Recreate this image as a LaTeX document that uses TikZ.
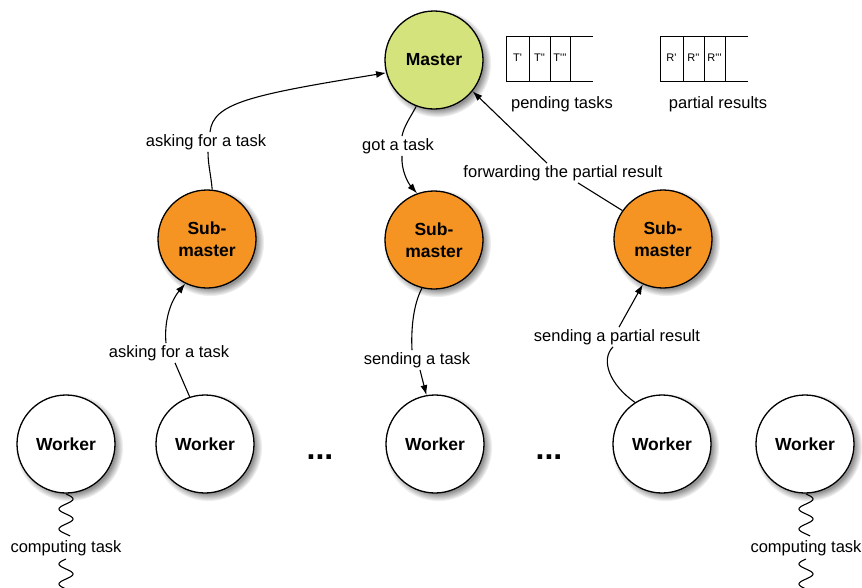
\documentclass[tikz,border=0pt]{standalone}
\usepackage{fontspec}
\setmainfont{Liberation Sans}
\usetikzlibrary{shadows,arrows.meta}
\definecolor{mastergreen}{RGB}{213,227,125}
\definecolor{suborange}{RGB}{245,148,35}
\tikzset{
  proc/.style={circle, draw, line width=1.3pt, minimum size=98pt, inner sep=0pt,
    font=\fontsize{17.5}{22}\selectfont\bfseries, align=center,
    circular drop shadow={shadow xshift=3pt, shadow yshift=-3pt, opacity=0.6, fill=black!70}},
  masterbox/.style={proc, fill=mastergreen},
  subbox/.style={proc, fill=suborange},
  workerbox/.style={proc, fill=white},
  lbl/.style={font=\fontsize{16.5}{18}\selectfont, inner sep=2pt},
  conn/.style={line width=1.1pt},
  arr/.style={conn, -{Latex[length=10pt,width=7pt]}},
  wiggle/.style={line width=1.1pt},
  cell/.style={font=\fontsize{11}{12}\selectfont, inner sep=0pt},
  queue/.style={line width=0.9pt},
  dots/.style={font=\fontsize{32}{34}\selectfont\bfseries, inner sep=0pt}
}
\begin{document}
\begin{tikzpicture}[x=1pt,y=-1pt]
\useasboundingbox (0,0) rectangle (862,587);

% processes
\node[masterbox] (m) at (434,60) {Master};
\node[subbox] (s1) at (207,239) {Sub-\\master};
\node[subbox] (s2) at (434,240) {Sub-\\master};
\node[subbox] (s3) at (663,239) {Sub-\\master};
\node[workerbox] (w1) at (66,444) {Worker};
\node[workerbox] (w2) at (205,444) {Worker};
\node[workerbox] (w3) at (435,444) {Worker};
\node[workerbox] (w4) at (662,444) {Worker};
\node[workerbox] (w5) at (805,444) {Worker};
\node[dots] (d1) at (320,457) {...};
\node[dots] (d2) at (549,457) {...};

% queues
\draw[queue] (593,36) -- (506,36) -- (506,81) -- (593,81);
\draw[queue] (529,36) -- (529,81) (550,36) -- (550,81) (570,36) -- (570,81);
\node[cell] (t1) at (517.5,58) {T\textquotesingle};
\node[cell] (t2) at (539.5,58) {T\textquotesingle\textquotesingle};
\node[cell] (t3) at (560,58) {T\textquotesingle\textquotesingle\textquotesingle};
\node[lbl] (pt) at (562,104) {pending tasks};
\draw[queue] (748,36) -- (660,36) -- (660,81) -- (748,81);
\draw[queue] (683,36) -- (683,81) (704,36) -- (704,81) (725,36) -- (725,81);
\node[cell] (r1) at (671.5,58) {R\textquotesingle};
\node[cell] (r2) at (693.5,58) {R\textquotesingle\textquotesingle};
\node[cell] (r3) at (714.5,58) {R\textquotesingle\textquotesingle\textquotesingle};
\node[lbl] (pr) at (718,104) {partial results};

% labels
\node[lbl] (lab1) at (206,142) {asking for a task};
\node[lbl] (lab2) at (398,146) {got a task};
\node[lbl] (lab3) at (563,173) {forwarding the partial result};
\node[lbl] (lab4) at (169,353) {asking for a task};
\node[lbl] (lab5) at (417,360) {sending a task};
\node[lbl] (lab6) at (617,337) {sending a partial result};
\node[lbl] (ct1) at (66,548) {computing task};
\node[lbl] (ct2) at (806,548) {computing task};

% connectors
\draw[conn] (s1.84) .. controls (211,175) and (208,165) .. ([xshift=2pt]lab1.south);
\draw[arr] ([xshift=4pt]lab1.north) .. controls (213,103) and (250,95) .. (m.195);
\draw[conn] (m.249) .. controls (410,118) and (404,126) .. ([xshift=4pt]lab2.north);
\draw[arr] ([xshift=4pt]lab2.south) .. controls (401,170) and (408,183) .. (s2.110);
\draw[conn] (s3.145) -- ([xshift=15pt]lab3.south);
\draw[arr] ([xshift=-16pt]lab3.north) -- (m.321);
\draw[conn] (w2.108) -- ([xshift=6pt]lab4.south);
\draw[arr] ([xshift=-3pt]lab4.north) .. controls (164,322) and (170,302) .. (s1.244);
\draw[conn] (s2.256) .. controls (413,305) and (411,330) .. ([xshift=-5pt]lab5.north);
\draw[arr] ([xshift=3pt]lab5.south) -- (w3.100);
\draw[conn] (w4.123) .. controls (610,385) and (600,360) .. ([xshift=-4pt]lab6.south);
\draw[arr] ([xshift=2pt]lab6.north) -- (s3.246);

% computing tasks (wavy lines)
\draw[wiggle] plot[domain=0:42, samples=90, smooth] ({66+7*sin(18*\x)},{494+\x});
\draw[wiggle] plot[domain=0:30, samples=70, smooth] ({66-7*sin(18*\x)},{559+\x});
\draw[wiggle] plot[domain=0:42, samples=90, smooth] ({806+7*sin(18*\x)},{494+\x});
\draw[wiggle] plot[domain=0:30, samples=70, smooth] ({806-7*sin(18*\x)},{559+\x});
\end{tikzpicture}
\end{document}
